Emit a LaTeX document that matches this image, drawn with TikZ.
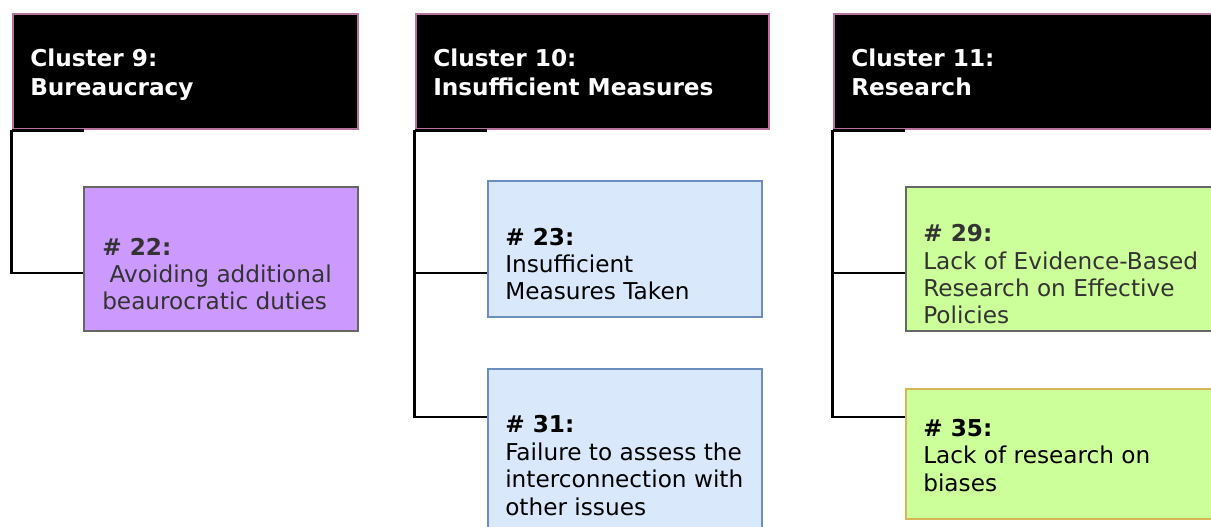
\documentclass[tikz,border=0pt]{standalone}
\usepackage{fontspec}
\setmainfont{DejaVu Sans}
\definecolor{clborder}{HTML}{B5739D}
\definecolor{purplefill}{HTML}{CC99FF}
\definecolor{bluefill}{HTML}{DAE8FC}
\definecolor{blueline}{HTML}{6C8EBF}
\definecolor{greenfill}{HTML}{CCFF99}
\definecolor{yellowline}{HTML}{D6B656}
\definecolor{greyline}{HTML}{666666}
\definecolor{darktext}{HTML}{333333}

\begin{document}
\begin{tikzpicture}[x=0.75pt,y=-0.75pt,
  cluster/.style={draw=clborder,fill=black,line width=2pt,inner sep=0,minimum height=86.25pt},
  issue/.style={line width=2pt,inner sep=0},
  htext/.style={text=white,font=\fontsize{17.4}{21.75}\selectfont\bfseries,align=left,anchor=base west,inner sep=0},
  itext/.style={font=\fontsize{17.4}{20.6}\selectfont,align=left,anchor=base west,inner sep=0},
  link/.style={line width=2.2pt}]
\clip (0,0) rectangle (1211,527);
\fill[white] (0,0) rectangle (1211,527);
% clusters
\node[cluster,minimum width=258.75pt] (c9) at (185.5,71.5){};
\node[cluster,minimum width=264.75pt] (c10) at (592.5,71.5){};
\node[cluster,minimum width=312pt] (c11) at (1042,71.5){};
\node[htext] (t9) at (30,96){Cluster 9:\\Bureaucracy};
\node[htext] (t10) at (433,96){Cluster 10:\\Insufficient Measures};
\node[htext] (t11) at (851,96){Cluster 11:\\Research};
% issues
\node[issue,draw=greyline,fill=purplefill,minimum width=205.5pt,minimum height=108pt] (22) at (221,259){};
\node[issue,draw=blueline,fill=bluefill,minimum width=205.5pt,minimum height=102pt] (23) at (625,249){};
\node[issue,draw=blueline,fill=bluefill,minimum width=205.5pt,minimum height=127.5pt] (31) at (625,454){};
\node[issue,draw=greyline,fill=greenfill,minimum width=250.5pt,minimum height=108pt] (29) at (1073,259){};
\node[issue,draw=yellowline,fill=greenfill,minimum width=250.5pt,minimum height=97.5pt] (35) at (1073,454){};
\node[itext,text=darktext] (t22) at (102,310){\textbf{\# 22:}\\\ Avoiding additional\\beaurocratic duties};
\node[itext] (t23) at (505,300){\textbf{\# 23:}\\Insufficient\\Measures Taken};
\node[itext] (t31) at (505,515){\textbf{\# 31:}\\Failure to assess the\\interconnection with\\other issues};
\node[itext,text=darktext] (t29) at (923,324){\textbf{\# 29:}\\Lack of Evidence-Based\\Research on Effective\\Policies};
\node[itext] (t35) at (923,491){\textbf{\# 35:}\\Lack of research on\\biases};
% connectors
\foreach \c in {c9,c10,c11}
  \draw[link] (\c.south west) -- ++(72,0);
\foreach \from/\to/\dy in {c9/22/-10.5pt,c10/23/-18pt,c10/31/27.75pt,c11/29/-10.5pt,c11/35/27.75pt}
  \draw[link] (\from.south west) |- ([yshift=\dy]\to.west);
\end{tikzpicture}
\end{document}
